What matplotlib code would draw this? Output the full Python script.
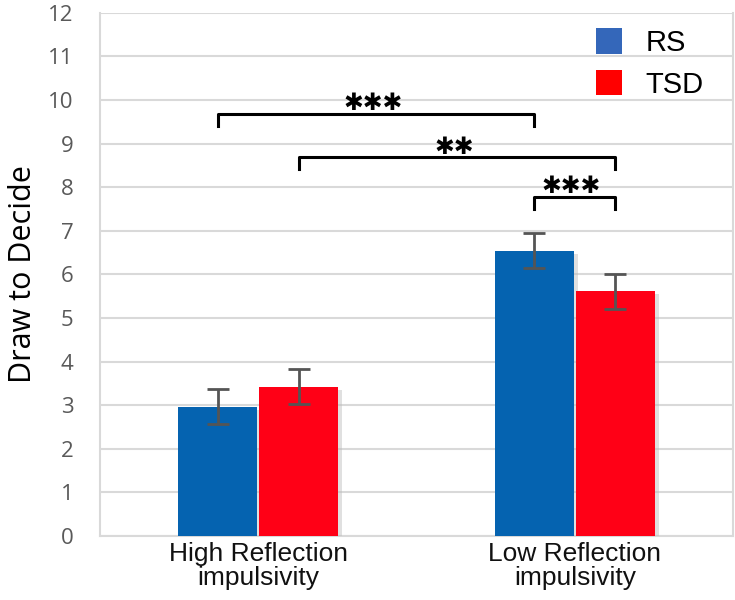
import matplotlib
matplotlib.use("Agg")
import matplotlib.pyplot as plt
from matplotlib.patches import Patch
import matplotlib.patheffects as pe
import numpy as np

categories = ["High Reflection\nimpulsivity", "Low Reflection\nimpulsivity"]
series_names = ["RS", "TSD"]
rs_values = [2.96, 6.54]
tsd_values = [3.42, 5.61]
rs_err = [0.40, 0.40]
tsd_err = [0.40, 0.40]
y_ticks = list(range(0, 13))
# significance brackets: (bar a, bar b, height, label)
sig_brackets = [((0, 0), (1, 0), 9.68, "✱✱✱"),
                ((0, 1), (1, 1), 8.69, "✱✱"),
                ((1, 0), (1, 1), 7.78, "✱✱✱")]

bar_colors = ["#0563B0", "#FF0016"]
legend_colors = ["#3467BA", "#FF0000"]

fig = plt.figure(figsize=(7.35, 6.0), dpi=100)
ax = fig.add_axes([100 / 735, 64 / 600, 633 / 735, 523.3 / 600])

x = np.arange(len(categories))
w = 0.25
offsets = [-w / 2 - 0.003, w / 2 + 0.003]
shadow = [pe.SimplePatchShadow(offset=(3, -2), shadow_rgbFace="#bbbbbb", alpha=0.45), pe.Normal()]
for vals, errs, col, off in zip([rs_values, tsd_values], [rs_err, tsd_err], bar_colors, offsets):
    bars = ax.bar(x + off, vals, width=w, color=col, zorder=3)
    for b in bars:
        b.set_path_effects(shadow)
    ax.errorbar(x + off, vals, yerr=errs, fmt="none", ecolor="#555555",
                elinewidth=2, capsize=8, capthick=2, zorder=4)

ax.set_xlim(-0.5, 1.5)
ax.set_ylim(0, 12)
ax.set_yticks(y_ticks)
ax.set_yticklabels([str(t) for t in y_ticks], fontsize=16, color="#595959", family="Open Sans")
ax.set_xticks(x)
ax.set_xticklabels(categories, fontsize=19, color="#111111", family="Liberation Sans", linespacing=1.0)
ax.tick_params(axis="y", length=0, pad=19)
ax.tick_params(axis="x", length=0, pad=4)
ax.yaxis.grid(True, color="#d9d9d9", linewidth=1.5, zorder=0)
ax.set_axisbelow(True)
for s in ["left", "bottom", "right"]:
    ax.spines[s].set_color("#d9d9d9")
    ax.spines[s].set_linewidth(1.5)
ax.spines["top"].set_visible(False)
ax.set_ylabel("Draw to Decide", fontsize=22, family="Open Sans", labelpad=7)

def bar_x(idx):
    g, s = idx
    return x[g] + offsets[s]

for a, b, h, lab in sig_brackets:
    xa, xb = bar_x(a), bar_x(b)
    ax.plot([xa, xa, xb, xb], [h - 0.27, h, h, h - 0.27], color="black", lw=2.2,
            solid_joinstyle="round", zorder=5, clip_on=False)
    ax.text((xa + xb) / 2 - 0.01, h + 0.24, lab, ha="center", va="center", fontsize=17,
            family="DejaVu Sans", color="black")

handles = [Patch(facecolor=c, edgecolor="none") for c in legend_colors]
leg = ax.legend(handles, series_names, loc="upper right", bbox_to_anchor=(0.995, 1.02),
                frameon=False, handlelength=0.9, handleheight=0.95,
                handletextpad=0.8, labelspacing=0.45, prop={"family": "Liberation Sans", "size": 21})

fig.savefig("out.png", dpi=100)
